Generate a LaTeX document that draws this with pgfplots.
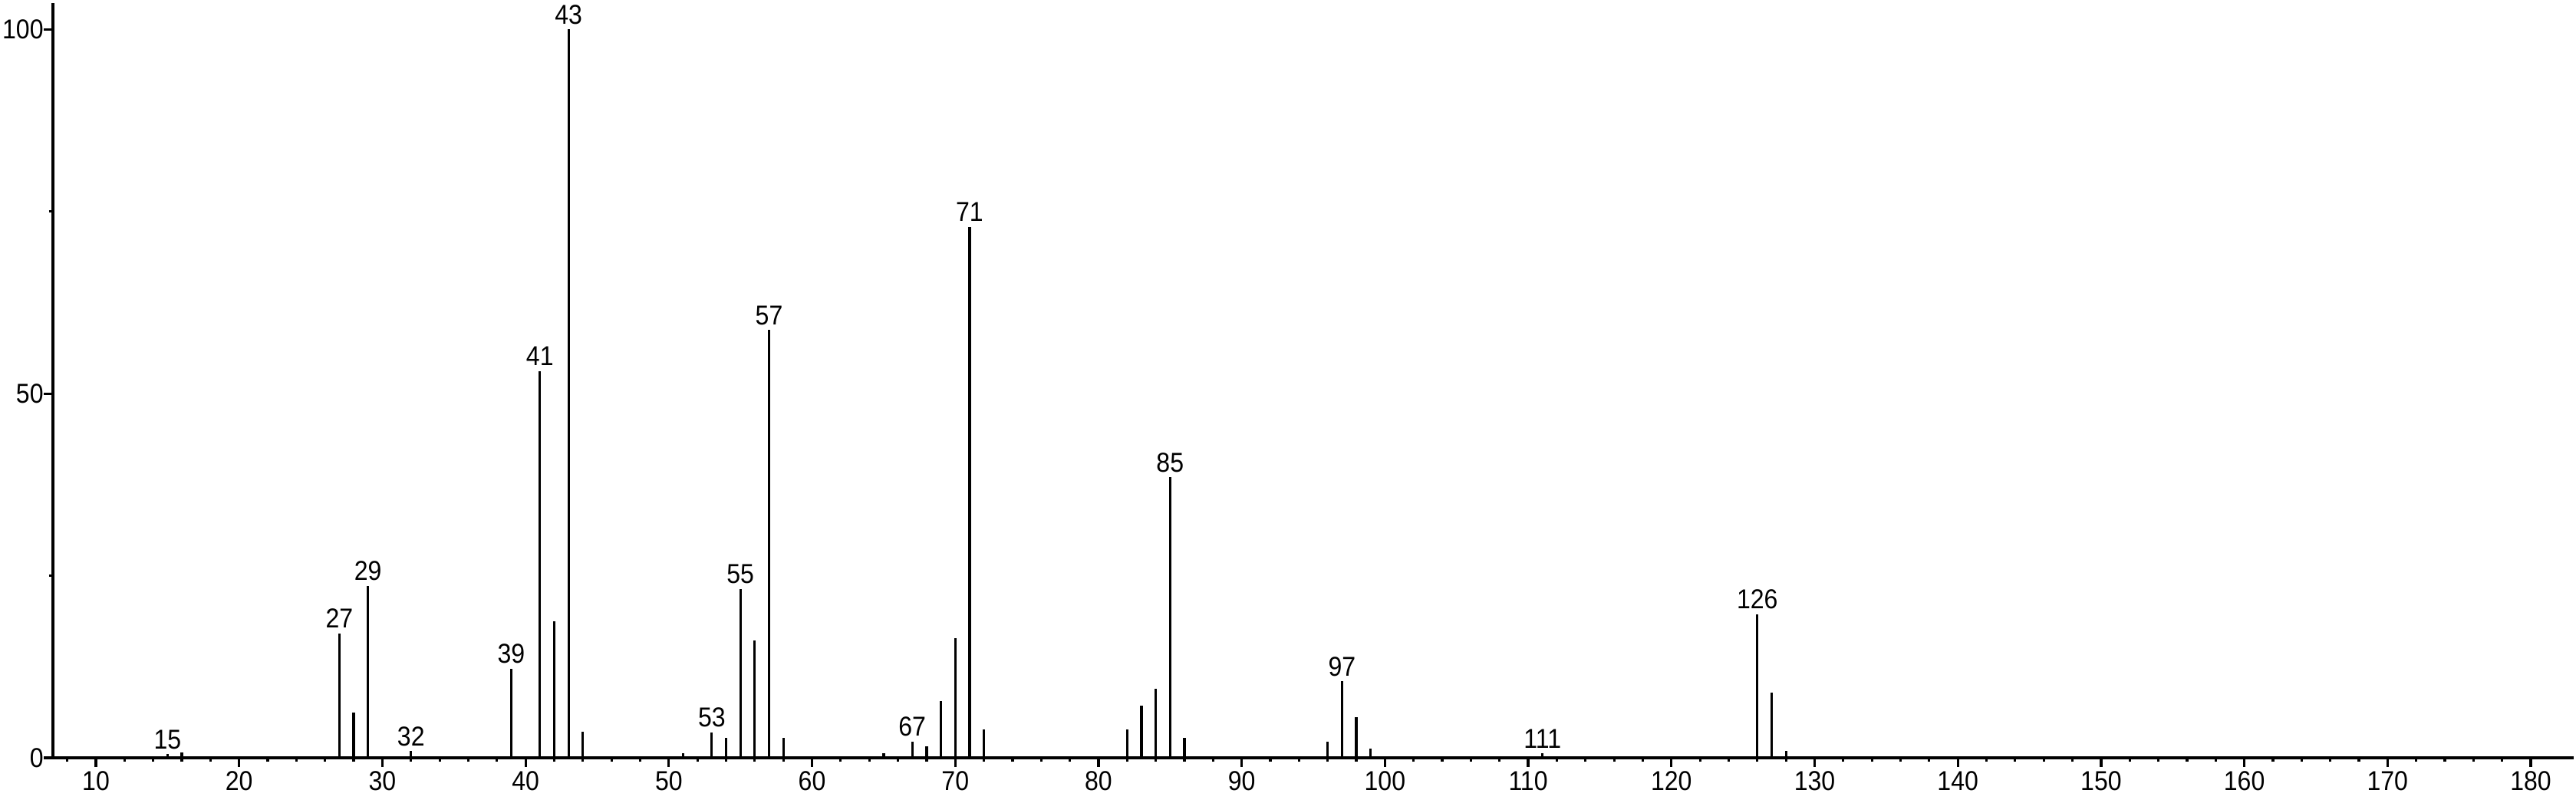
\documentclass[border=0pt]{standalone}
\usepackage{pgfplots}
\pgfplotsset{compat=1.18}
\usepackage{fontspec}
\setmainfont{Liberation Sans}[FakeStretch=0.9]
\begin{document}
\begin{tikzpicture}
\begin{axis}[
  scale only axis, width=821.5pt, height=246pt,
  xmin=7, xmax=183, ymin=0, ymax=103.6,
  axis lines*=left,
  axis line style={line width=1pt},
  xtick distance=10, minor x tick num=4,
  ytick={0,50,100}, minor ytick={25,75},
  tick align=outside,
  major tick length=2.9pt, minor tick length=1.3pt,
  every tick/.style={line width=0.8pt, black},
  tick label style={font=\fontsize{8.9}{10}\selectfont},
  yticklabel style={inner sep=0pt},
  xticklabel style={inner sep=0pt, yshift=-1.2pt},
  /pgf/number format/assume math mode=true,
  clip=false,
]
\addplot[ycomb, line width=0.8pt, mark=none, black] coordinates {
(15,0.5) (16,0.7) (27,17.1) (28,6.2) (29,23.6) (32,0.9) (39,12.2)
(41,53.1) (42,18.7) (43,100) (44,3.6) (51,0.6) (53,3.5) (54,2.7)
(55,23.2) (56,16.1) (57,58.7) (58,2.7) (65,0.6) (67,2.2) (68,1.6)
(69,7.8) (70,16.4) (71,72.9) (72,3.9) (82,3.9) (83,7.2) (84,9.5)
(85,38.5) (86,2.7) (96,2.2) (97,10.5) (98,5.6) (99,1.3) (111,0.6)
(126,19.7) (127,8.9) (128,1.0)
};
\addplot[ycomb, draw=none, mark=none, point meta=explicit symbolic,
  nodes near coords,
  nodes near coords style={font=\fontsize{8.9}{10}\selectfont, anchor=south, inner sep=1.5pt, black}]
coordinates {
(15,0.5)[15] (27,17.1)[27] (29,23.6)[29] (32,0.9)[32] (39,12.2)[39]
(41,53.1)[41] (43,100)[43] (53,3.5)[53] (55,23.2)[55] (57,58.7)[57]
(67,2.2)[67] (71,72.9)[71] (85,38.5)[85] (97,10.5)[97] (111,0.6)[111]
(126,19.7)[126]
};
\end{axis}
\pgfresetboundingbox
\path[use as bounding box] ([shift={(-17.25pt,-13.5pt)}]current axis.south west) rectangle ([shift={(0.75pt,1pt)}]current axis.north east);
\end{tikzpicture}
\end{document}
